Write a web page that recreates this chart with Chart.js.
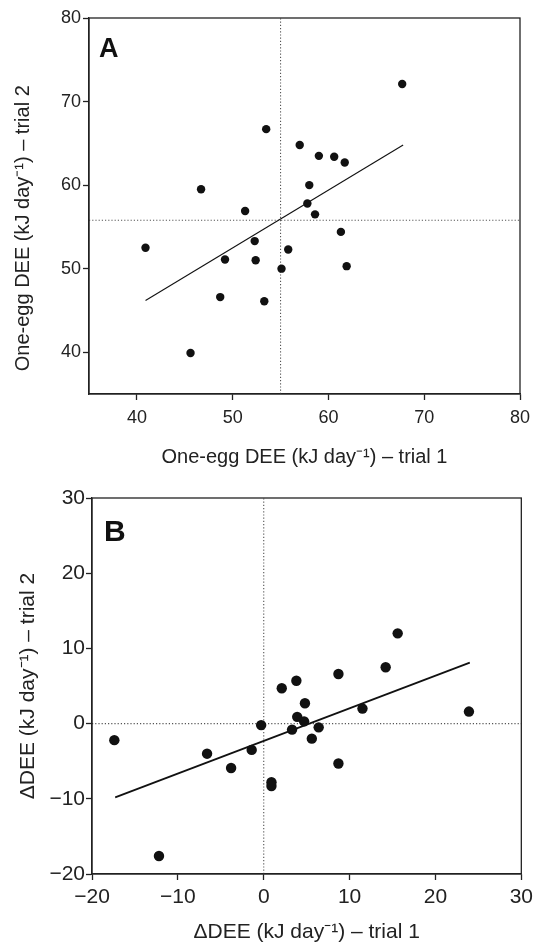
<!DOCTYPE html>
<html>
<head>
<meta charset="utf-8">
<script src="https://cdn.jsdelivr.net/npm/chart.js@4"></script>
<style>
  body { margin: 0; background: #fff; }
  .panel { position: absolute; left: 0; width: 538px; }
  #panelA { top: 0; height: 471px; }
  #panelB { top: 471px; height: 472px; }
</style>
</head>
<body>
<div class="panel" id="panelA"><canvas id="chartA"></canvas></div>
<div class="panel" id="panelB"><canvas id="chartB"></canvas></div>
<script>
// Panel A: one-egg DEE, trial 1 vs trial 2
const aTrial1 = [67.7, 53.5, 57.0, 59.0, 60.6, 61.7, 46.7, 58.0, 57.8, 51.3, 58.6, 61.3, 52.3, 40.9, 55.8, 49.2, 52.4, 61.9, 55.1, 48.7, 53.3, 45.6];
const aTrial2 = [72.1, 66.7, 64.8, 63.5, 63.4, 62.7, 59.5, 60.0, 57.8, 56.9, 56.5, 54.4, 53.3, 52.5, 52.3, 51.1, 51.0, 50.3, 50.0, 46.6, 46.1, 39.9];
const aFitX = [40.9, 67.8];
const aFitY = [46.2, 64.8];
const aMean1 = 55.0;
const aMean2 = 55.8;
const aRange = [35, 80];
const aTicks = [40, 50, 60, 70, 80];

// Panel B: change in DEE, trial 1 vs trial 2
const bTrial1 = [15.6, 14.2, 8.7, 3.8, 2.1, 4.8, 11.5, 23.9, 3.9, 4.7, 3.3, 6.4, 5.6, 8.7, 0.9, 0.9, -0.3, -17.4, -6.6, -1.4, -3.8, -12.2];
const bTrial2 = [12.0, 7.5, 6.6, 5.7, 4.7, 2.7, 2.0, 1.6, 0.9, 0.3, -0.8, -0.5, -2.0, -5.3, -7.8, -8.3, -0.2, -2.2, -4.0, -3.5, -5.9, -17.6];
const bFitX = [-17.3, 24.0];
const bFitY = [-9.8, 8.1];
const bMean1 = 0;
const bMean2 = 0;
const bRange = [-20, 30];
const bTicks = [-20, -10, 0, 10, 20, 30];

const FONT = "'Liberation Sans', Arial, Helvetica, sans-serif";
const INK = '#222';

// frame round the plot area + panel letter
const framePlugin = {
    id: 'frameLetter',
    afterDraw(chart, args, opts) {
        const { ctx, chartArea: a } = chart;
        ctx.save();
        ctx.strokeStyle = INK;
        ctx.lineWidth = 1.3;
        ctx.strokeRect(a.left, a.top, a.right - a.left, a.bottom - a.top);
        ctx.font = 'bold ' + opts.size + 'px ' + FONT;
        ctx.fillStyle = '#111';
        ctx.textBaseline = 'alphabetic';
        ctx.fillText(opts.text, a.left + opts.dx, a.top + opts.dy);
        ctx.restore();
    }
};

function axis(range, ticks, p) {
    return {
        type: 'linear',
        min: range[0],
        max: range[1],
        afterBuildTicks: s => { s.ticks = ticks.map(v => ({ value: v })); },
        afterFit: s => { if (p.width) s.width = p.width; if (p.height) s.height = p.height; },
        grid: { drawOnChartArea: false, drawTicks: true, tickLength: 6, tickWidth: 1.3, tickColor: INK },
        border: { display: true, color: INK, width: 1.3 },
        ticks: {
            color: INK,
            padding: p.tickPad,
            maxRotation: 0,
            font: { family: FONT, size: p.tickSize },
            callback: v => String(v).replace('-', '\u2212')
        },
        title: {
            display: true,
            text: p.title,
            color: INK,
            font: { family: FONT, size: p.titleSize, lineHeight: 1 },
            padding: p.titlePad
        }
    };
}

function makeChart(id, d) {
    const pts = d.t1.map((x, i) => ({ x: x, y: d.t2[i] }));
    const ctx = document.getElementById(id).getContext('2d');
    return new Chart(ctx, {
        type: 'scatter',
        data: {
            datasets: [
                {
                    data: pts,
                    backgroundColor: '#111',
                    borderColor: '#111',
                    pointRadius: d.r,
                    pointHoverRadius: d.r,
                    borderWidth: 0,
                    order: 0
                },
                {
                    data: [{ x: d.fitX[0], y: d.fitY[0] }, { x: d.fitX[1], y: d.fitY[1] }],
                    showLine: true,
                    pointRadius: 0,
                    borderColor: '#111',
                    borderWidth: d.fitW,
                    order: 1
                },
                {
                    data: [{ x: d.m1, y: d.yr[0] }, { x: d.m1, y: d.yr[1] }],
                    showLine: true,
                    pointRadius: 0,
                    borderColor: '#555',
                    borderWidth: 1.1,
                    borderDash: [1.2, 2],
                    order: 2
                },
                {
                    data: [{ x: d.xr[0], y: d.m2 }, { x: d.xr[1], y: d.m2 }],
                    showLine: true,
                    pointRadius: 0,
                    borderColor: '#555',
                    borderWidth: 1.1,
                    borderDash: [1.2, 2],
                    order: 3
                }
            ]
        },
        options: {
            responsive: true,
            maintainAspectRatio: false,
            animation: false,
            events: [],
            layout: { padding: d.pad },
            plugins: {
                legend: { display: false },
                tooltip: { enabled: false },
                frameLetter: d.letter
            },
            scales: {
                x: axis(d.xr, d.xt, d.xo),
                y: axis(d.yr, d.yt, d.yo)
            }
        },
        plugins: [framePlugin]
    });
}

makeChart('chartA', {
    t1: aTrial1, t2: aTrial2, fitX: aFitX, fitY: aFitY, m1: aMean1, m2: aMean2,
    xr: aRange, yr: aRange, xt: aTicks, yt: aTicks, r: 4.2, fitW: 1.1,
    pad: { top: 18, right: 18, left: 0, bottom: 0 },
    letter: { text: 'A', size: 27, dx: 10, dy: 39 },
    xo: { height: 77, tickSize: 18, tickPad: 7, titleSize: 20, titlePad: { top: 0, bottom: 3.5 },
          title: 'One-egg DEE (kJ day\u207B\u00B9) \u2013 trial 1' },
    // trailing spaces nudge the centred label down, like the original
    yo: { width: 89, tickSize: 18, tickPad: 2, titleSize: 20, titlePad: { top: 13, bottom: 0 },
          title: 'One-egg DEE (kJ day\u207B\u00B9) \u2013 trial 2        ' }
});

makeChart('chartB', {
    t1: bTrial1, t2: bTrial2, fitX: bFitX, fitY: bFitY, m1: bMean1, m2: bMean2,
    xr: bRange, yr: bRange, xt: bTicks, yt: bTicks, r: 5.2, fitW: 1.8,
    pad: { top: 27, right: 16, left: 0, bottom: 0 },
    letter: { text: 'B', size: 30, dx: 12, dy: 43 },
    xo: { height: 69, tickSize: 21, tickPad: 5, titleSize: 21, titlePad: { top: 0, bottom: 0 },
          title: '\u0394DEE (kJ day\u207B\u00B9) \u2013 trial 1' },
    yo: { width: 92, tickSize: 21, tickPad: 1, titleSize: 21, titlePad: { top: 18, bottom: 0 },
          title: '\u0394DEE (kJ day\u207B\u00B9) \u2013 trial 2' }
});
</script>
</body>
</html>
